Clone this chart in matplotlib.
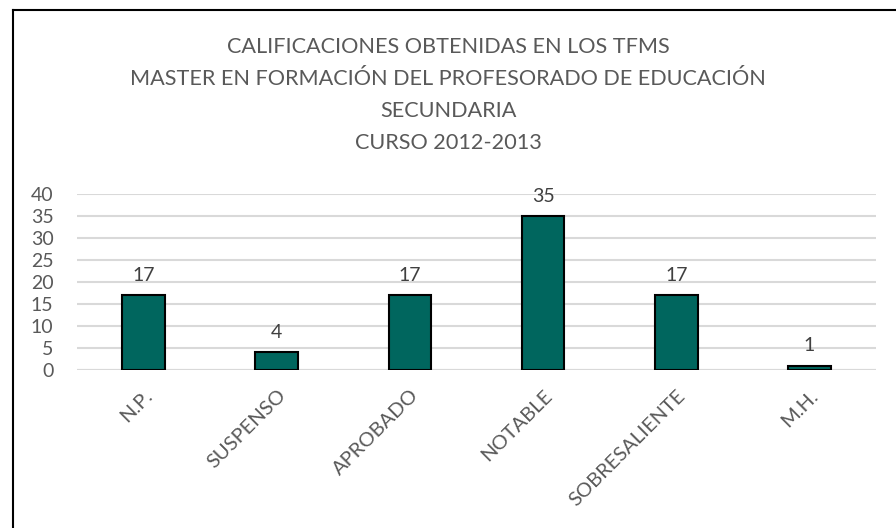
import matplotlib.pyplot as plt
from matplotlib.lines import Line2D

categories = ['N.P.', 'SUSPENSO', 'APROBADO', 'NOTABLE', 'SOBRESALIENTE', 'M.H.']
values = [17, 4, 17, 35, 17, 1]
yticks = [0, 5, 10, 15, 20, 25, 30, 35, 40]
title_lines = ['CALIFICACIONES OBTENIDAS EN LOS TFMS',
               'MASTER EN FORMACIÓN DEL PROFESORADO DE EDUCACIÓN',
               'SECUNDARIA',
               'CURSO 2012-2013']

plt.rcParams['font.family'] = ['Lato', 'DejaVu Sans']
grey = '#595959'

fig = plt.figure(figsize=(8.96, 5.28), dpi=100)
# plot area in pixels: x 77..876, y 194..370 (from top)
W, H = 896, 528
ax = fig.add_axes([77 / W, 1 - 370 / H, (876 - 77) / W, (370 - 194) / H])

x = range(len(categories))
ax.bar(x, values, width=0.32, color='#00665E', edgecolor='black', linewidth=1.5, zorder=3)
for xi, v in zip(x, values):
    ax.annotate(str(v), (xi, v), xytext=(0, 8), textcoords='offset points',
                ha='center', va='bottom', fontsize=14, color='#404040')

ax.set_xlim(-0.5, len(categories) - 0.5)
ax.set_ylim(0, 40)
ax.set_yticks(yticks)
ax.yaxis.grid(True, color='#d9d9d9', linewidth=1.5, zorder=0)
ax.set_axisbelow(True)
for s in ax.spines.values():
    s.set_visible(False)
ax.axhline(0, color='#d9d9d9', linewidth=1.5, zorder=1)
ax.tick_params(axis='both', length=0, labelsize=14, labelcolor=grey)
ax.tick_params(axis='y', pad=17)
ax.set_xticks(list(x))
ax.set_xticklabels(categories, rotation=45, ha='right', va='top',
                   rotation_mode='anchor', fontsize=14.5)
ax.tick_params(axis='x', pad=12)

for i, line in enumerate(title_lines):
    fig.text(448 / W, 1 - (47 + 32 * i) / H, line, ha='center', va='center',
             fontsize=15.6, color=grey)

# chart border (only top and left visible)
fig.add_artist(Line2D([13 / W, 1], [1 - 10 / H, 1 - 10 / H], color='black', linewidth=1.5))
fig.add_artist(Line2D([13 / W, 13 / W], [0, 1 - 10 / H], color='black', linewidth=1.5))

fig.savefig('out.png', dpi=100)
